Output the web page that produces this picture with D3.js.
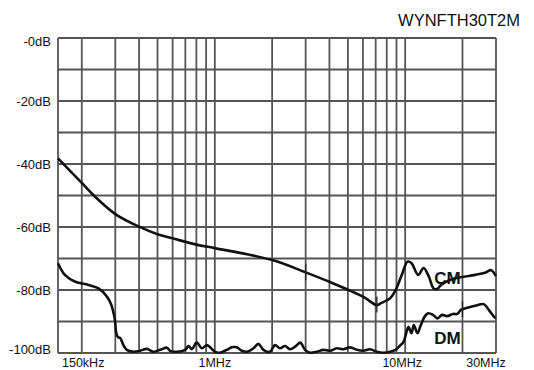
<!DOCTYPE html>
<html>
<head>
<meta charset="utf-8">
<script src="https://cdn.jsdelivr.net/npm/d3@7"></script>
<style>
  body { margin: 0; background: #fff; }
  svg text { font-family: "Liberation Sans", Arial, Helvetica, sans-serif; fill: #111; }
</style>
</head>
<body>
<svg width="534" height="370"></svg>
<script>
// attenuation curves, frequency in MHz, level in dB
var cmFreq = [0.15, 0.2, 0.235, 0.3, 0.4, 0.5, 0.6, 0.8, 1.0, 2.0, 3.0, 4.0, 6.0, 7.1, 7.5,
  8.34, 8.86, 9.6, 10.3, 10.8, 11.7, 12.5, 13.3, 14.1, 14.7, 15.5, 17.6, 19.9, 23.3, 26.3, 28.3, 30];
var cmDb = [-38.2, -46.0, -50.4, -55.9, -59.9, -62.3, -63.6, -65.6, -66.7, -70.5, -74.4, -77.4, -82.1, -84.8, -84.1,
  -82.6, -80.3, -75.2, -71.0, -71.5, -75.2, -73.0, -75.7, -79.5, -79.7, -78.3, -76.6, -75.9, -75.2, -74.5, -73.7, -75.6];

var dmFreq = [0.15, 0.163, 0.185, 0.217, 0.245, 0.271, 0.285, 0.295, 0.3, 0.303, 0.31, 0.318, 0.331, 0.345,
  0.373, 0.405, 0.439, 0.476, 0.516, 0.56, 0.582, 0.632, 0.698, 0.727, 0.757, 0.804, 0.855, 0.908, 0.945,
  1.0, 1.066, 1.156, 1.228, 1.305, 1.386, 1.473, 1.595, 1.694, 1.8, 1.95, 2.07, 2.2, 2.34, 2.49, 2.64, 2.81, 2.98,
  3.17, 3.43, 3.72, 4.03, 4.37, 4.73, 5.14, 5.57, 6.03, 6.54, 7.1, 7.69, 8.34, 8.89, 9.45, 9.8,
  10.2, 10.4, 10.8, 11.1, 11.6, 12.0, 12.7, 13.2, 14.0, 14.8, 15.6, 16.6, 17.8, 18.8, 19.6, 20.7, 23.3, 25.9, 27.5, 29.2, 30];
var dmDb = [-71.5, -75.2, -77.4, -78.4, -79.5, -82.1, -84.5, -87.8, -90.6, -93.5, -95.0, -95.2, -97.5, -99.0,
  -99.6, -99.3, -98.7, -99.6, -99.0, -98.3, -99.3, -99.6, -99.0, -97.8, -98.8, -96.7, -98.5, -97.5, -98.2,
  -99.6, -99.9, -99.0, -98.2, -98.2, -99.3, -99.6, -98.5, -97.1, -99.0, -99.6, -97.5, -98.5, -97.8, -98.8, -98.0, -96.7, -99.0,
  -99.9, -99.6, -99.0, -99.3, -98.5, -98.8, -98.2, -99.0, -99.3, -98.8, -99.6, -99.9, -99.6, -99.0, -97.5, -96.5,
  -93.0, -91.7, -93.7, -91.1, -93.7, -91.6, -88.3, -87.4, -87.9, -89.0, -87.9, -88.3, -87.6, -87.6, -86.3, -85.8, -85.0, -84.5, -86.3, -88.4, -88.9];

// short marker strokes crossing the curves
var markFreq = [3, 7.1, 20];
var markDb = [-74.4, -84.6, -86.1];

var xGrid = [0.15, 0.2, 0.3, 0.4, 0.5, 0.6, 0.7, 0.8, 0.9, 1, 2, 3, 4, 5, 6, 7, 8, 9, 10, 20, 30];
var yGrid = [0, -10, -20, -30, -40, -50, -60, -70, -80, -90, -100];
var yTicks = [0, -20, -40, -60, -80, -100];
var yTickLabels = ["-0dB", "-20dB", "-40dB", "-60dB", "-80dB", "-100dB"];
var xTicks = [0.15, 1, 10, 30];
var xTickLabels = ["150kHz", "1MHz", "10MHz", "30MHz"];
var title = "WYNFTH30T2M";

var svg = d3.select("svg"),
  margin = {top: 38, right: 38, bottom: 17, left: 58},
  width = +svg.attr("width") - margin.left - margin.right,
  height = +svg.attr("height") - margin.top - margin.bottom,
  g = svg.append("g").attr("transform", "translate(" + margin.left + "," + margin.top + ")");

var x = d3.scaleLog().domain([0.15, 30]).range([0, width]),
  y = d3.scaleLinear().domain([-100, 0]).range([height, 0]);

// grid
g.append("g").selectAll("line.v")
  .data(xGrid)
  .enter().append("line")
  .attr("class", "v")
  .attr("x1", d => x(d)).attr("x2", d => x(d))
  .attr("y1", 0).attr("y2", height)
  .style("stroke", "#555").style("stroke-width", 1.8);

g.append("g").selectAll("line.h")
  .data(yGrid)
  .enter().append("line")
  .attr("class", "h")
  .attr("x1", 0).attr("x2", width)
  .attr("y1", d => y(d)).attr("y2", d => y(d))
  .style("stroke", "#555").style("stroke-width", 1.8);

// y labels (end ones nudged like the original)
var yNudge = {"0": 3, "-100": -4};
g.append("g").selectAll("text")
  .data(yTicks)
  .enter().append("text")
  .attr("x", -7)
  .attr("y", d => y(d) + (yNudge[d] || 0))
  .attr("dy", "0.36em")
  .attr("text-anchor", "end")
  .style("font-size", "13px")
  .text((d, i) => yTickLabels[i]);

// x labels
var xShift = [4, 0, -3, -10];
var xAnchor = ["start", "middle", "middle", "middle"];
g.append("g").selectAll("text")
  .data(xTicks)
  .enter().append("text")
  .attr("x", (d, i) => x(d) + xShift[i])
  .attr("y", height + 13.5)
  .attr("text-anchor", (d, i) => xAnchor[i])
  .style("font-size", "12.5px")
  .text((d, i) => xTickLabels[i]);

var line = d3.line()
  .curve(d3.curveCatmullRom.alpha(0.5))
  .x(d => x(d[0]))
  .y(d => y(d[1]));

var curves = [d3.zip(cmFreq, cmDb), d3.zip(dmFreq, dmDb)];

g.selectAll("path.curve")
  .data(curves)
  .enter().append("path")
  .attr("class", "curve")
  .attr("d", line)
  .style("fill", "none")
  .style("stroke", "#111")
  .style("stroke-width", 2.6)
  .style("stroke-linejoin", "round");

g.selectAll("line.mark")
  .data(d3.zip(markFreq, markDb))
  .enter().append("line")
  .attr("class", "mark")
  .attr("x1", d => x(d[0])).attr("x2", d => x(d[0]))
  .attr("y1", d => y(d[1]) - 8).attr("y2", d => y(d[1]) + 8)
  .style("stroke", "#222").style("stroke-width", 1.3);

// curve names
g.append("text")
  .attr("x", x(14.2)).attr("y", y(-78.2))
  .style("font-size", "17px").style("font-weight", "bold")
  .text("CM");
g.append("text")
  .attr("x", x(14.2)).attr("y", y(-97.2))
  .style("font-size", "17px").style("font-weight", "bold")
  .text("DM");

svg.append("text")
  .attr("x", 520).attr("y", 26)
  .attr("text-anchor", "end")
  .style("font-size", "16.5px")
  .text(title);
</script>
</body>
</html>
